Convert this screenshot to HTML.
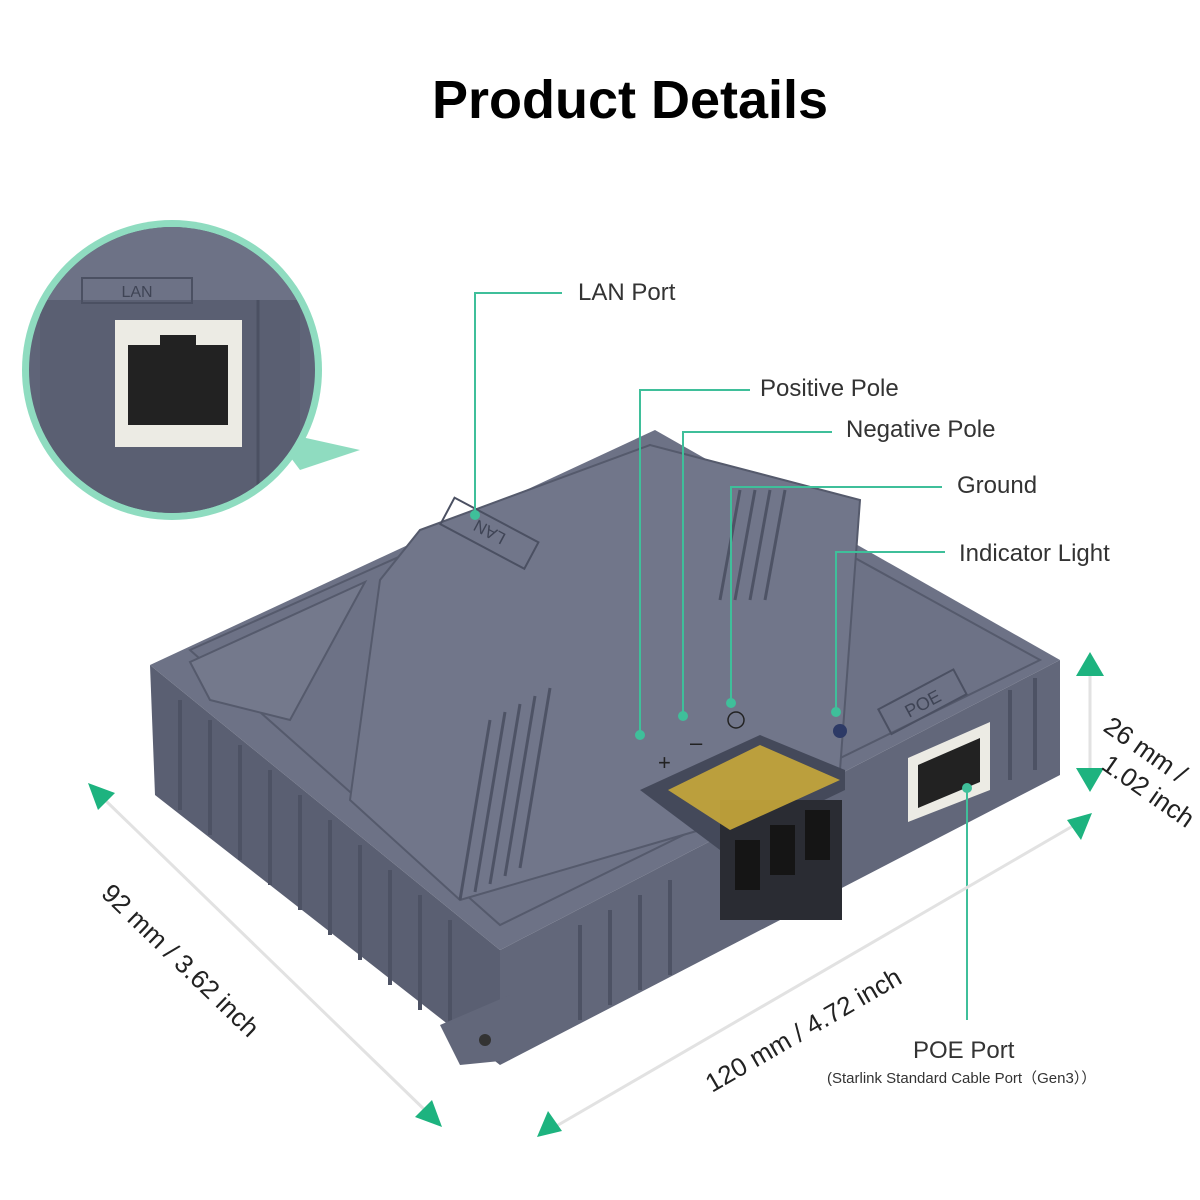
<!DOCTYPE html>
<html><head><meta charset="utf-8"><style>
html,body{margin:0;padding:0;background:#fff;}
svg{display:block}
text{font-family:"Liberation Sans",sans-serif;}
</style></head><body>
<svg width="1200" height="1200" viewBox="0 0 1200 1200" xmlns="http://www.w3.org/2000/svg">
<rect width="1200" height="1200" fill="#fff"/>
<text x="630" y="118" text-anchor="middle" font-size="54" font-weight="bold" fill="#000">Product Details</text>

<!-- inset circle -->
<defs><clipPath id="cc"><circle cx="172" cy="370" r="143"/></clipPath></defs>
<polygon points="270,430 360,450 300,470" fill="#8fdcc0"/>
<circle cx="172" cy="370" r="150" fill="#8fdcc0"/>
<g clip-path="url(#cc)">
<rect x="0" y="200" width="400" height="350" fill="#5f6478"/>
<polygon points="0,200 400,200 400,300 0,300" fill="#6d7286"/>
<rect x="40" y="300" width="260" height="250" fill="#5a5f72"/>
<rect x="82" y="278" width="110" height="25" fill="none" stroke="#4b5062" stroke-width="2"/>
<text x="137" y="297" text-anchor="middle" font-size="16" fill="#3f4455">LAN</text>
<rect x="115" y="320" width="127" height="127" fill="#ecebe4"/>
<rect x="128" y="345" width="100" height="80" fill="#222"/>
<rect x="160" y="335" width="36" height="14" fill="#222"/>
<line x1="258" y1="300" x2="258" y2="550" stroke="#4b5062" stroke-width="3"/>
</g>

<!-- device -->
<polygon points="150,665 500,950 500,1065 155,795" fill="#5a5f72"/>
<polygon points="500,950 1060,660 1060,775 500,1065" fill="#62677a"/>
<polygon points="150,665 655,430 1060,660 500,950" fill="#6d7286"/>
<polygon points="190,650 650,445 1040,660 500,925" fill="none" stroke="#555a6c" stroke-width="2"/>
<polygon points="190,662 365,582 290,720 210,700" fill="#74798c" stroke="#555a6c" stroke-width="2"/>
<polygon points="380,580 420,530 650,445 860,500 840,770 700,830 460,900 350,800" fill="#71768a" stroke="#555a6c" stroke-width="2"/>
<g stroke="#4e5365" stroke-width="3">
<line x1="490" y1="720" x2="460" y2="900"/><line x1="505" y1="712" x2="475" y2="892"/><line x1="520" y1="704" x2="490" y2="884"/><line x1="535" y1="696" x2="505" y2="876"/><line x1="550" y1="688" x2="520" y2="868"/>
<line x1="740" y1="490" x2="720" y2="600"/><line x1="755" y1="490" x2="735" y2="600"/><line x1="770" y1="490" x2="750" y2="600"/><line x1="785" y1="490" x2="765" y2="600"/>
</g>
<g stroke="#4d5264" stroke-width="4">
<line x1="180" y1="700" x2="180" y2="810"/><line x1="210" y1="720" x2="210" y2="835"/><line x1="240" y1="745" x2="240" y2="860"/><line x1="270" y1="770" x2="270" y2="885"/><line x1="300" y1="795" x2="300" y2="910"/><line x1="330" y1="820" x2="330" y2="935"/><line x1="360" y1="845" x2="360" y2="960"/><line x1="390" y1="870" x2="390" y2="985"/><line x1="420" y1="895" x2="420" y2="1010"/><line x1="450" y1="920" x2="450" y2="1035"/>
<line x1="580" y1="925" x2="580" y2="1020"/><line x1="610" y1="910" x2="610" y2="1005"/><line x1="640" y1="895" x2="640" y2="990"/><line x1="670" y1="880" x2="670" y2="975"/>
<line x1="1010" y1="690" x2="1010" y2="780"/><line x1="1035" y1="678" x2="1035" y2="770"/>
</g>
<polygon points="440,1025 510,995 510,1060 460,1065" fill="#62677a"/>
<circle cx="485" cy="1040" r="6" fill="#333"/>
<rect x="442" y="518" width="95" height="30" fill="none" stroke="#4b5062" stroke-width="2" transform="rotate(28 489 533)"/>
<text x="489" y="540" text-anchor="middle" font-size="17" fill="#3f4455" transform="rotate(208 489 533)">LAN</text>
<!-- terminal block -->
<polygon points="640,790 760,735 845,770 845,790 720,850" fill="#44495a"/>
<rect x="720" y="800" width="122" height="120" fill="#2a2c33"/>
<polygon points="668,790 760,745 840,780 730,830" fill="#c9a83a" opacity="0.9"/>
<rect x="735" y="840" width="25" height="50" fill="#151515"/><rect x="770" y="825" width="25" height="50" fill="#151515"/><rect x="805" y="810" width="25" height="50" fill="#151515"/>
<text x="658" y="770" font-size="22" fill="#222">+</text>
<text x="690" y="750" font-size="22" fill="#222">–</text>
<circle cx="736" cy="720" r="8" fill="none" stroke="#222" stroke-width="1.5"/>
<circle cx="840" cy="731" r="7" fill="#2d3a66"/>
<!-- POE -->
<rect x="880" y="688" width="85" height="28" fill="none" stroke="#4b5062" stroke-width="2" transform="rotate(-28 922 702)"/>
<text x="922" y="710" text-anchor="middle" font-size="18" fill="#3f4455" transform="rotate(-28 922 702)">POE</text>
<polygon points="908,758 990,722 990,790 908,822" fill="#ecebe4"/>
<polygon points="918,765 980,738 980,782 918,808" fill="#222"/>

<!-- callout lines -->
<g stroke="#3fbf9a" stroke-width="2" fill="none">
<polyline points="475,515 475,293 562,293"/>
<polyline points="640,735 640,390 750,390"/>
<polyline points="683,715 683,432 832,432"/>
<polyline points="731,702 731,487 942,487"/>
<polyline points="836,712 836,552 945,552"/>
<polyline points="967,788 967,1020"/>
</g>
<g fill="#3fbf9a">
<circle cx="475" cy="515" r="5"/><circle cx="640" cy="735" r="5"/><circle cx="683" cy="716" r="5"/><circle cx="731" cy="703" r="5"/><circle cx="836" cy="712" r="5"/><circle cx="967" cy="788" r="5"/>
</g>
<g font-size="24" fill="#333">
<text x="578" y="300">LAN Port</text>
<text x="760" y="396">Positive Pole</text>
<text x="846" y="437">Negative Pole</text>
<text x="957" y="493">Ground</text>
<text x="959" y="561">Indicator Light</text>
<text x="913" y="1058">POE Port</text>
</g>
<text x="827" y="1083" font-size="15" fill="#333">(Starlink Standard Cable Port（Gen3））</text>

<!-- dimensions -->
<g stroke="#e2e2e2" stroke-width="3">
<line x1="1090" y1="670" x2="1090" y2="775"/>
<line x1="105" y1="800" x2="430" y2="1115"/>
<line x1="553" y1="1128" x2="1078" y2="823"/>
</g>
<g fill="#1db37f">
<polygon points="1090,652 1076,676 1104,676"/>
<polygon points="1090,792 1076,768 1104,768"/>
<polygon points="88,783 115,793 98,810"/>
<polygon points="442,1127 415,1117 432,1100"/>
<polygon points="537,1137 548,1111 562,1131"/>
<polygon points="1092,813 1081,840 1067,820"/>
</g>
<g font-size="26" fill="#222">
<text x="1102" y="730" transform="rotate(35 1102 730)">26 mm /</text>
<text x="1100" y="768" transform="rotate(35 1100 768)">1.02 inch</text>
<text x="100" y="895" transform="rotate(44 100 895)">92 mm / 3.62 inch</text>
<text x="712" y="1093" transform="rotate(-30 712 1093)">120 mm / 4.72 inch</text>
</g>
</svg>
</body></html>
